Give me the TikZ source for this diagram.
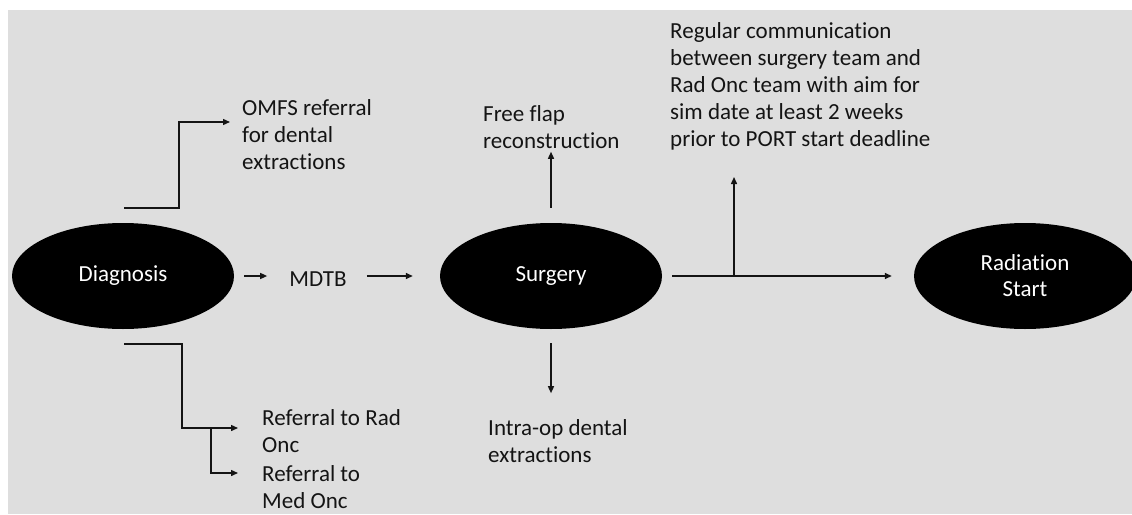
\documentclass[tikz,border=0pt]{standalone}
\usepackage{fontspec}
\setmainfont{Carlito}[Ligatures=NoCommon]
\usetikzlibrary{shapes.geometric,arrows.meta}
\definecolor{panelgray}{RGB}{222,222,222}
\definecolor{inkgray}{RGB}{20,20,20}

\tikzset{
  stage/.style={ellipse, fill=black, text=white, minimum width=222pt,
    minimum height=106pt, inner sep=0pt, align=center},
  note/.style={align=left, anchor=west, inner sep=0pt, text=inkgray},
  wire/.style={line width=1.4pt, draw=inkgray},
  flow/.style={wire, -{Triangle[length=7pt,width=6pt]}},
}

\begin{document}
\begin{tikzpicture}[x=1pt,y=-1pt,font=\fontsize{23}{27}\selectfont]
  \useasboundingbox (0,0) rectangle (1132,514);
  \fill [white] (0,0) rectangle (1132,514);
  \fill [panelgray] (8,10) rectangle (1132,514);

  % main stages
  \node [stage] (diag) at (123,276) {Diagnosis};
  \node [stage] (surg) at (551,276) {Surgery};
  \node [stage] (rad) at (1025,276) {Radiation\\[-1pt]Start};
  \node [inner sep=0pt, text=inkgray] (mdtb) at (318,279) {MDTB};

  % side notes
  \node [note] (omfs) at (242,135) {OMFS referral\\for dental\\extractions};
  \node [note] (radonc) at (262,431) {Referral to Rad\\Onc};
  \node [note] (medonc) at (262,487) {Referral to\\Med Onc};
  \node [note] (flap) at (483,127) {Free flap\\reconstruction};
  \node [note] (intra) at (488,441) {Intra-op dental\\extractions};
  \node [note] (comm) at (670,86) {Regular communication\\between surgery team and\\Rad Onc team with aim for\\sim date at least 2 weeks\\prior to PORT start deadline};

  % connector points
  \coordinate (omfsfoot) at (124,208);
  \coordinate (omfstip) at (230,122);
  \coordinate (reffoot) at (124,344);
  \coordinate (radtip) at (238,428);
  \coordinate (medtip) at (238,473);
  \coordinate (medfork) at (211,428);
  \coordinate (commfork) at (734,276);
  \coordinate (commtip) at (734,177);

  % main line
  \draw [flow] ([xshift=10pt]diag.east) -- ([xshift=-22pt]mdtb.west |- diag.east);
  \draw [flow] ([xshift=20pt]mdtb.east |- diag.east) -- ([xshift=-27pt]surg.west);
  \draw [flow] ([xshift=10pt]surg.east) -- ([xshift=-22pt]rad.west);
  \draw [flow] (commfork) -- (commtip);

  % branches off the stages
  \draw [flow] (omfsfoot) -| (179,122) -- (omfstip);
  \draw [flow] (reffoot) -| (182,428) -- (radtip);
  \draw [flow] (medfork) |- (medtip);
  \draw [flow] ([yshift=15pt]surg.north) -- ([yshift=-3pt]flap.south -| surg.north);
  \draw [flow] ([yshift=-14pt]surg.south) -- ++(0,50);
\end{tikzpicture}
\end{document}
